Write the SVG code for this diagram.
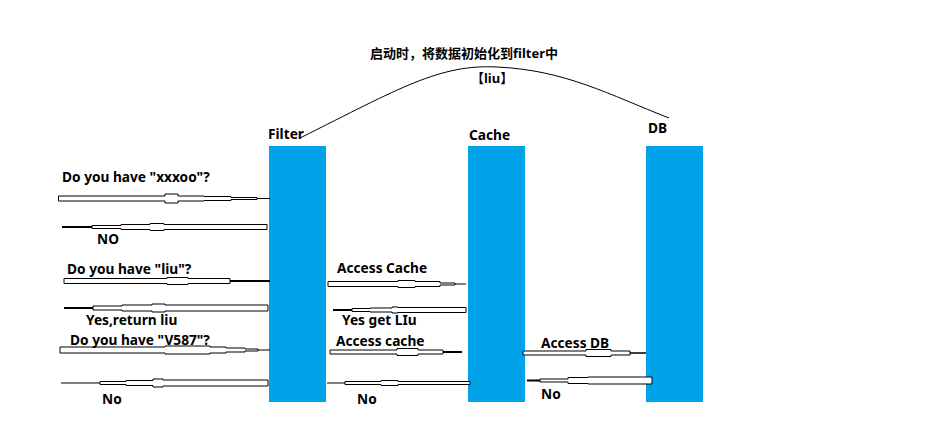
<svg xmlns="http://www.w3.org/2000/svg" width="933" height="443" viewBox="0 0 933 443">
<style>
.bar{fill:#00A2E8}
.arr{fill:#fff;stroke:#000;stroke-width:1}
.ln{stroke:#000;fill:none}
text{font-family:"Noto Sans","Noto Sans CJK SC",sans-serif;font-weight:bold;font-size:13.7px;fill:#000}
.cn{font-size:13px}
</style>
<rect width="933" height="443" fill="#fff"/>
<g id="filter"><rect class="bar" x="269" y="146" width="57" height="256"/><text x="268" y="139">Filter</text></g>
<g id="cache"><rect class="bar" x="468" y="146" width="57" height="256"/><text x="469" y="140">Cache</text></g>
<g id="db"><rect class="bar" x="646" y="146" width="57" height="256"/><text x="648" y="133">DB</text></g>
<g id="init">
<path class="ln" d="M300,138 C400,88 440,64 497,67 C565,70 610,95 669,118"/>
<text class="cn" x="370" y="58">启动时，将数据初始化到filter中</text>
<text class="cn" x="471" y="83">【liu】</text>
</g>
<g id="connectors">
<polygon class="arr" points="58.5,196 165,196 165,194 178,194 178,196 204,196 204,196.5 231,196.5 231,197.5 257,197.5 257,199.5 231,199.5 231,200.5 204,200.5 204,201 178,201 178,203 165,203 165,201 58.5,201"/>
<line class="ln" x1="257" y1="198.5" x2="270" y2="198.5"/>
<line class="ln" x1="62" y1="227" x2="92" y2="227" stroke-width="2"/>
<polygon class="arr" points="92,225.5 121,225.5 121,224.5 150,224.5 150,223.5 164,223.5 164,224.5 267,224.5 267,229.5 164,229.5 164,230.5 150,230.5 150,229.5 121,229.5 121,228.5 92,228.5"/>
<polygon class="arr" points="64,278.5 167,278.5 167,277.5 188,277.5 188,278.5 230,278.5 230,283.5 188,283.5 188,284.5 167,284.5 167,283.5 64,283.5"/>
<line class="ln" x1="230" y1="281" x2="270" y2="281" stroke-width="2"/>
<line class="ln" x1="64" y1="308" x2="93" y2="308" stroke-width="2"/>
<polygon class="arr" points="93,306 122,306 122,305 152,305 152,304 165,304 165,305 268,305 268,311 165,311 165,312 152,312 152,311 122,311 122,310 93,310"/>
<polygon class="arr" points="60,347 165,347 165,346 210,346 210,347 226,347 226,348 245,348 245,349 258,349 258,351 245,351 245,352 226,352 226,353 210,353 210,354 165,354 165,353 60,353"/>
<line class="ln" x1="258" y1="350" x2="270" y2="350"/>
<line class="ln" x1="61" y1="383" x2="100" y2="383"/>
<polygon class="arr" points="100,381.5 126,381.5 126,380.5 153,380.5 153,379 163,379 163,380 268,380 268,386 163,386 163,387 153,387 153,385.5 126,385.5 126,384.5 100,384.5"/>
<polygon class="arr" points="328,281.5 398,281.5 398,280.5 415,280.5 415,281.5 440,281.5 440,283 455,283 455,285 440,285 440,286.5 415,286.5 415,287.5 398,287.5 398,286.5 328,286.5"/>
<line class="ln" x1="455" y1="284" x2="466" y2="284"/>
<line class="ln" x1="333" y1="310" x2="352" y2="310" stroke-width="2"/>
<polygon class="arr" points="352,308.5 370,308.5 370,308 392,308 392,307 398,307 398,307.5 466,307.5 466,312.5 398,312.5 398,313 392,313 392,312 370,312 370,311.5 352,311.5"/>
<polygon class="arr" points="330,350 397,350 397,348.5 418,348.5 418,350 443,350 443,354 418,354 418,355.5 397,355.5 397,354 330,354"/>
<line class="ln" x1="443" y1="352" x2="462" y2="352" stroke-width="2"/>
<line class="ln" x1="327" y1="383" x2="345" y2="383"/>
<polygon class="arr" points="345,381.5 381,381.5 381,380.5 398,380.5 398,381.5 470,381.5 470,384.5 398,384.5 398,385.5 381,385.5 381,384.5 345,384.5"/>
<polygon class="arr" points="523,351 586,351 586,349.5 611,349.5 611,351 630,351 630,355 611,355 611,356.5 586,356.5 586,355 523,355"/>
<line class="ln" x1="630" y1="353" x2="646" y2="353" stroke-width="1.5"/>
<line class="ln" x1="527" y1="380.5" x2="540" y2="380.5" stroke-width="2"/>
<polygon class="arr" points="540,379 568,379 568,377.5 588,377.5 588,377 652,377 652,384 588,384 588,383.5 568,383.5 568,382 540,382"/>
</g>
<g id="labels">
<text x="62" y="182">Do you have "xxxoo"?</text>
<text x="97" y="244">NO</text>
<text x="67" y="274">Do you have "liu"?</text>
<text x="86" y="325">Yes,return liu</text>
<text x="70" y="345">Do you have "V587"?</text>
<text x="102" y="404">No</text>
<text x="337" y="273">Access Cache</text>
<text x="342" y="325">Yes get LIu</text>
<text x="336" y="346">Access cache</text>
<text x="357" y="404">No</text>
<text x="541" y="348">Access DB</text>
<text x="541" y="399">No</text>
</g>
</svg>
